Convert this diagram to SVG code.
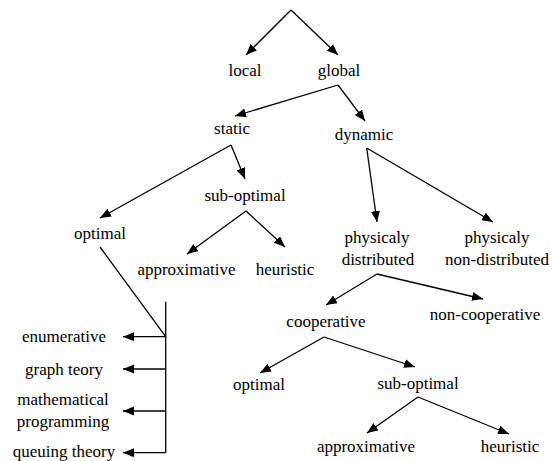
<svg xmlns="http://www.w3.org/2000/svg" width="553" height="461" viewBox="0 0 553 461">
  <style>
    .lbl text { text-anchor: middle; }
    .edge { stroke: #000; stroke-width: 1.3; fill: none; }
    .arrow { marker-end: url(#head); }
  </style>
  <defs>
    <marker id="head" markerUnits="userSpaceOnUse" markerWidth="12" markerHeight="10" refX="11" refY="4.5" orient="auto">
      <path d="M0,0 L11,4.5 L0,9 z" fill="#000"/>
    </marker>
  </defs>
  <rect width="553" height="461" fill="#fff"/>

  <g id="connectors">
    <line class="edge arrow" x1="291" y1="10" x2="246" y2="55"/>
    <line class="edge arrow" x1="291" y1="10" x2="338" y2="55"/>
    <line class="edge arrow" x1="338" y1="85" x2="235" y2="116"/>
    <line class="edge arrow" x1="338" y1="85" x2="365" y2="121"/>
    <line class="edge arrow" x1="231" y1="145" x2="100" y2="218"/>
    <line class="edge arrow" x1="231" y1="145" x2="245" y2="179"/>
    <line class="edge arrow" x1="246" y1="211" x2="187" y2="254"/>
    <line class="edge arrow" x1="246" y1="211" x2="285" y2="247"/>
    <line class="edge" x1="100" y1="247" x2="165.7" y2="336.7"/>
    <line class="edge" x1="165.7" y1="301.7" x2="165.7" y2="452.7"/>
    <line class="edge arrow" x1="165.7" y1="336.7" x2="123" y2="336.7"/>
    <line class="edge arrow" x1="165.7" y1="369" x2="123" y2="369"/>
    <line class="edge arrow" x1="165.7" y1="411" x2="123" y2="411"/>
    <line class="edge arrow" x1="165.7" y1="452.7" x2="123" y2="452.7"/>
    <line class="edge arrow" x1="366.7" y1="148" x2="377" y2="222"/>
    <line class="edge arrow" x1="366.7" y1="148" x2="493" y2="222"/>
    <line class="edge arrow" x1="377" y1="274" x2="326" y2="305"/>
    <line class="edge arrow" x1="377" y1="274" x2="483" y2="299"/>
    <line class="edge arrow" x1="324" y1="337" x2="260" y2="373"/>
    <line class="edge arrow" x1="324" y1="337" x2="415" y2="367"/>
    <line class="edge arrow" x1="418" y1="397" x2="367" y2="433"/>
    <line class="edge arrow" x1="418" y1="397" x2="509" y2="434"/>
  </g>

  <g class="lbl" font-family="'Liberation Serif', 'Times New Roman', serif" font-size="17" fill="#000">
    <g id="local"><text x="245" y="76">local</text></g>
    <g id="global"><text x="339" y="76">global</text></g>
    <g id="static"><text x="232" y="134">static</text></g>
    <g id="dynamic"><text x="364" y="140">dynamic</text></g>
    <g id="static-suboptimal"><text x="245" y="201">sub-optimal</text></g>
    <g id="static-optimal"><text x="100" y="239">optimal</text></g>
    <g id="static-approximative"><text x="186.5" y="275">approximative</text></g>
    <g id="static-heuristic"><text x="285" y="275">heuristic</text></g>
    <g id="enumerative"><text x="64" y="342">enumerative</text></g>
    <g id="graph-teory"><text x="64" y="375">graph teory</text></g>
    <g id="math-programming"><text x="63" y="405">mathematical</text><text x="63" y="427">programming</text></g>
    <g id="queuing-theory"><text x="64" y="457">queuing theory</text></g>
    <g id="phys-distributed"><text x="377" y="243">physicaly</text><text x="378" y="265">distributed</text></g>
    <g id="phys-non-distributed"><text x="497" y="243">physicaly</text><text x="497" y="265">non-distributed</text></g>
    <g id="cooperative"><text x="326" y="327">cooperative</text></g>
    <g id="non-cooperative"><text x="485" y="320">non-cooperative</text></g>
    <g id="coop-optimal"><text x="259" y="390">optimal</text></g>
    <g id="coop-suboptimal"><text x="418" y="389">sub-optimal</text></g>
    <g id="coop-approximative"><text x="366" y="452">approximative</text></g>
    <g id="coop-heuristic"><text x="510" y="452">heuristic</text></g>
  </g>
</svg>
